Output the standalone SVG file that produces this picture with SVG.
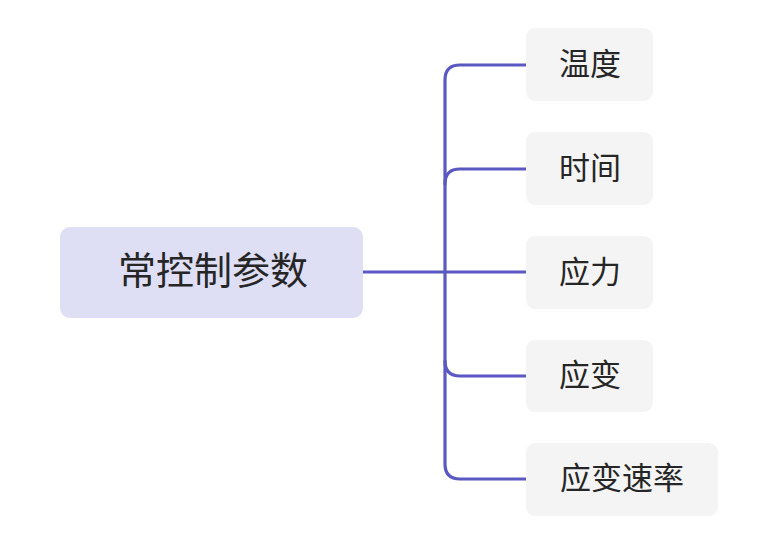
<svg xmlns="http://www.w3.org/2000/svg" width="778" height="540" viewBox="0 0 778 540">
<style>
.root{fill:#dedef5}
.child{fill:#f4f4f4}
.t{font-family:"Noto Sans CJK SC","Noto Sans",sans-serif;fill:#262626;text-anchor:middle;dominant-baseline:central}
.conn{fill:none;stroke:#5a58c2;stroke-width:3.2;stroke-linecap:round}
</style>
<rect width="778" height="540" fill="#ffffff"/>
<g id="connectors">
<path class="conn" d="M363 272 H526"/>
<path class="conn" d="M526 65 H460 Q445 65 445 80 V464 Q445 479 460 479 H526"/>
<path class="conn" d="M526 169 H460 Q445 169 445 184"/>
<path class="conn" d="M526 376 H460 Q445 376 445 361"/>
</g>
<g id="root">
<rect class="root" x="60" y="227" width="303" height="91" rx="10"/>
<text class="t" x="213" y="267" font-size="38">常控制参数</text>
</g>
<g id="n1">
<rect class="child" x="526" y="28" width="127" height="73" rx="9"/>
<text class="t" x="590" y="61" font-size="31">温度</text>
</g>
<g id="n2">
<rect class="child" x="526" y="132" width="127" height="73" rx="9"/>
<text class="t" x="590" y="165" font-size="31">时间</text>
</g>
<g id="n3">
<rect class="child" x="526" y="236" width="127" height="73" rx="9"/>
<text class="t" x="590" y="269" font-size="31">应力</text>
</g>
<g id="n4">
<rect class="child" x="526" y="340" width="127" height="72" rx="9"/>
<text class="t" x="590" y="372" font-size="31">应变</text>
</g>
<g id="n5">
<rect class="child" x="526" y="443" width="192" height="73" rx="9"/>
<text class="t" x="622" y="475" font-size="31">应变速率</text>
</g>
</svg>
